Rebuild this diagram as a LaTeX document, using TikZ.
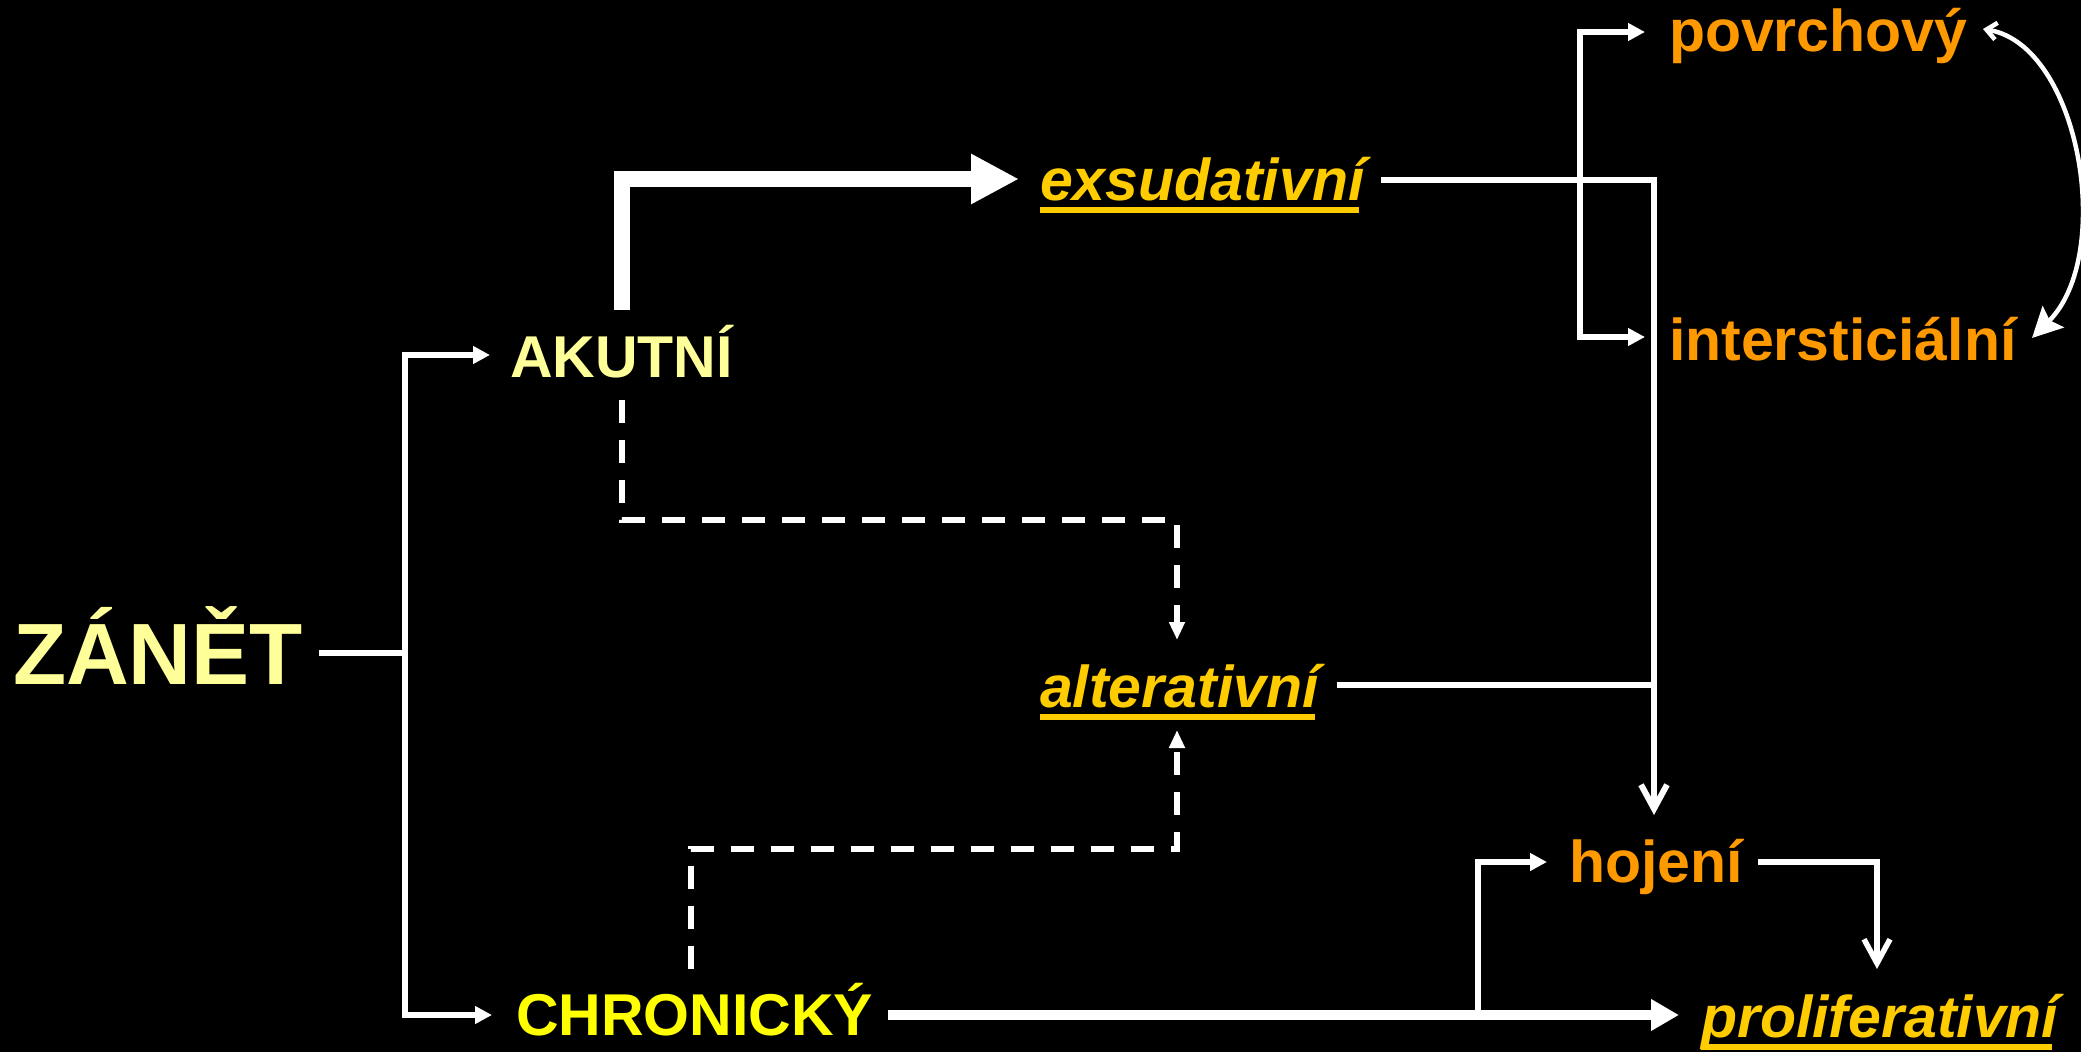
\documentclass[tikz,border=0pt]{standalone}
\usepackage{fontspec}
\setmainfont{Liberation Sans}
\usetikzlibrary{arrows.meta}
\definecolor{paleyel}{HTML}{FFFF99}
\definecolor{brightyel}{HTML}{FFFF00}
\definecolor{gold}{HTML}{FFCC00}
\definecolor{orng}{HTML}{FF9900}
\tikzset{
  lbl/.style={anchor=base west, inner sep=0pt, outer sep=0pt, font=\fontsize{59}{70}\selectfont\bfseries},
  big/.style={lbl, font=\fontsize{87}{100}\selectfont\bfseries, text=paleyel},
  kind/.style={lbl, text=paleyel},
  typ/.style={lbl, font=\fontsize{59}{70}\selectfont\bfseries\itshape, text=gold},
  res/.style={lbl, text=orng},
  conn/.style={draw=white, line width=5.5pt, line join=miter},
  tri/.style={-{Triangle[length=17pt,width=17pt]}},
  barb/.style={-{Straight Barb[length=24pt,width=26pt]}},
  dsh/.style={conn, dash pattern=on 23pt off 17pt, -{Triangle[length=18pt,width=15pt]}},
  ulin/.style={draw=gold, line width=5.5pt},
}
\begin{document}
\begin{tikzpicture}[x=1pt,y=-1pt]
\fill[black] (0,0) rectangle (2081,1052);
\useasboundingbox (0,0) rectangle (2081,1052);

% texts
\node[big] (zanet) at (13,684) {ZÁNĚT};
\node[kind] (akut) at (510,377) {AKUTNÍ};
\node[lbl, text=brightyel] (chron) at (516,1035) {CHRONICKÝ};
\node[typ] (exs) at (1040,200) {exsudativní};
\node[typ] (alt) at (1040,707) {alterativní};
\node[typ] (prolif) at (1701,1037) {proliferativní};
\node[res] (povrch) at (1669,51) {povrchový};
\node[res] (inter) at (1669,360) {intersticiální};
\node[res] (hoj) at (1569,882) {hojení};

% underlines
\draw[ulin] ([yshift=-10pt]exs.base west) -- ([yshift=-10pt,xshift=-6pt]exs.base east);
\draw[ulin] ([yshift=-10pt]alt.base west) -- ([yshift=-10pt,xshift=-4pt]alt.base east);
\draw[ulin] ([yshift=-10pt]prolif.base west) -- ([yshift=-10pt,xshift=-6pt]prolif.base east);

% coordinates
\coordinate (zOut) at (319,653);
\coordinate (zJ) at (405,653);
\coordinate (aCorner) at (405,355);
\coordinate (aTip) at (490,355);
\coordinate (cCorner) at (405,1015);
\coordinate (cTip) at (492,1015);

\coordinate (akTop) at (622,310);
\coordinate (akCorner) at (622,179);
\coordinate (exsTip) at (1019,179);

\coordinate (akBot) at (622,400);
\coordinate (d1) at (622,520);
\coordinate (d2) at (1177,520);
\coordinate (altTopTip) at (1177,640);

\coordinate (chTop) at (691,969);
\coordinate (d3) at (691,849);
\coordinate (d4) at (1177,849);
\coordinate (altBotTip) at (1177,730);

\coordinate (exsOut) at (1381,180);
\coordinate (eCorner) at (1654,180);
\coordinate (hojTopTip) at (1654,815);
\coordinate (altOut) at (1337,685);
\coordinate (altJ) at (1654,685);

\coordinate (bTop) at (1580,32);
\coordinate (bBot) at (1580,337);
\coordinate (povTip) at (1645,32);
\coordinate (intTip) at (1645,337);

\coordinate (chOut) at (888,1015);
\coordinate (prolTip) at (1679,1015);
\coordinate (hJ) at (1478,1015);
\coordinate (hCorner) at (1478,862);
\coordinate (hojTip) at (1547,862);
\coordinate (hojOut) at (1758,862);
\coordinate (hCorner2) at (1877,862);
\coordinate (prolTopTip) at (1877,969);

\coordinate (curvA) at (1983,29);
\coordinate (curvB) at (2032,338);

% connectors
\draw[conn] (zOut) -- (zJ);
\draw[conn, {Triangle[length=17pt,width=17pt]}-{Triangle[length=17pt,width=17pt]}] (aTip) -- (aCorner) -- (cCorner) -- (cTip);

\draw[draw=white, line width=16pt, line join=miter, -{Triangle[length=48pt,width=47pt]}] (akTop) -- (akCorner) -- (exsTip);

\draw[dsh] (akBot) -- (d1) -- (d2) -- (altTopTip);
\draw[dsh] (chTop) -- (d3) -- (d4) -- (altBotTip);

\draw[conn, line width=6pt, barb] (exsOut) -- (eCorner) -- (hojTopTip);
\draw[conn] (altOut) -- (altJ);

\draw[conn, {Triangle[length=17pt,width=17pt]}-{Triangle[length=17pt,width=17pt]}] (povTip) -- (bTop) -- (bBot) -- (intTip);

\draw[draw=white, line width=10pt, -{Triangle[length=28pt,width=30pt]}] (chOut) -- (prolTip);
\draw[conn, tri] (hJ) -- (hCorner) -- (hojTip);
\draw[conn, barb] (hojOut) -- (hCorner2) -- (prolTopTip);

\draw[draw=white, line width=4.5pt, {Straight Barb[length=10pt,width=17pt]}-{Stealth[length=30pt,width=30pt,inset=5pt]}] (curvA) .. controls (2080,45) and (2115,255) .. (curvB);
\end{tikzpicture}
\end{document}
